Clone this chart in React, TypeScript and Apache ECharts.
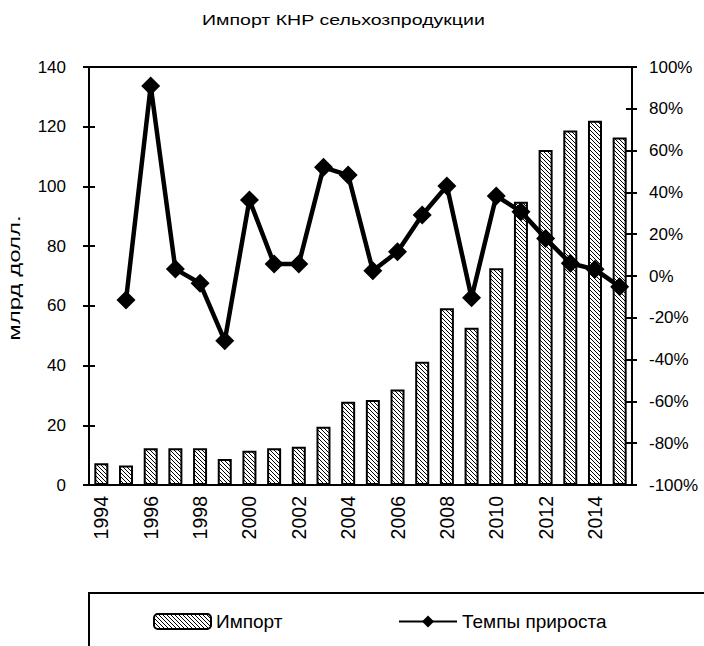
import React, { useEffect, useRef } from "react";
import * as echarts from "echarts";

const years = ["1994","1995","1996","1997","1998","1999","2000","2001","2002","2003","2004","2005","2006","2007","2008","2009","2010","2011","2012","2013","2014","2015"];
const importValues = [7.3, 6.5, 12.3, 12.3, 12.3, 8.7, 11.5, 12.3, 12.8, 19.5, 27.9, 28.5, 32.0, 41.3, 59.2, 52.7, 72.6, 94.9, 112.2, 118.7, 122.0, 116.4];
const growthValues = [null, -11.5, 90.9, 3.3, -3.5, -31, 36.4, 5.7, 5.7, 52, 48.3, 2.5, 11.6, 29.2, 43.1, -10.4, 38.3, 30.8, 18, 6.1, 3.2, -5.1];
const titleText = "Импорт КНР сельхозпродукции";
const yNameText = "млрд долл.";

const FONT = "Liberation Sans, Arial, sans-serif";

function makePattern() {
  const c = document.createElement("canvas");
  c.width = 4;
  c.height = 4;
  const ctx = c.getContext("2d")!;
  ctx.fillStyle = "#fff";
  ctx.fillRect(0, 0, 4, 4);
  ctx.fillStyle = "#000";
  for (let i = 0; i < 4; i++) ctx.fillRect(i, i, 1, 1);
  return c;
}

export default function App() {
  const ref = useRef<HTMLDivElement>(null);
  useEffect(() => {
    const chart = echarts.init(ref.current!, null, { renderer: "svg" });
    const pattern = { image: makePattern(), repeat: "repeat" };
    const tickTxt = { color: "#000", fontFamily: FONT, fontSize: 17 };
    const legTxt = { color: "#000", fontFamily: FONT, fontSize: 19 };
    const axisLine = { show: true, lineStyle: { color: "#000", width: 2 } };
    const tickStyle = { color: "#000", width: 2 };
    chart.setOption({
      animation: false,
      backgroundColor: "#fff",
      grid: { left: 89, right: 72, top: 67, bottom: 161, show: true, borderColor: "#000", borderWidth: 2 },
      legend: [
        {
          data: ["Импорт"],
          left: 153,
          top: 612,
          padding: 0,
          itemWidth: 57,
          itemHeight: 15,
          textStyle: legTxt,
        },
        {
          data: ["Темпы прироста"],
          left: 398,
          top: 612,
          padding: 0,
          itemWidth: 58,
          itemHeight: 15,
          textStyle: legTxt,
        },
      ],
      graphic: [
        {
          type: "rect",
          shape: { x: 89, y: 593, width: 700, height: 100 },
          style: { fill: "none", stroke: "#000", lineWidth: 2 },
          z: -1,
        },
        {
          type: "text",
          x: 202,
          y: 12,
          scaleX: 1.26,
          style: { text: titleText, fill: "#000", font: "15.5px " + FONT, textAlign: "left", textVerticalAlign: "top" },
        },
        {
          type: "text",
          x: 15,
          y: 278,
          rotation: Math.PI / 2,
          scaleX: 1.5,
          style: { text: yNameText, fill: "#000", font: "16px " + FONT, textAlign: "center", textVerticalAlign: "middle" },
        },
      ],
      xAxis: {
        type: "category",
        data: years,
        axisLine: { lineStyle: { color: "#000", width: 2 } },
        axisTick: { interval: 0, length: 7, lineStyle: tickStyle },
        axisLabel: { interval: 1, rotate: 90, margin: 11, ...tickTxt, fontSize: 19.5 },
      },
      yAxis: [
        {
          type: "value",
          min: 0,
          max: 140,
          interval: 20,
          position: "left",
          axisLine,
          axisTick: { show: true, length: 6, lineStyle: tickStyle },
          axisLabel: { margin: 23, ...tickTxt },
          splitLine: { show: false },
        },
        {
          type: "value",
          min: -100,
          max: 100,
          interval: 20,
          position: "right",
          axisLine,
          axisTick: { show: true, length: 5, lineStyle: tickStyle },
          axisLabel: { margin: 17, formatter: "{value}%", ...tickTxt },
          splitLine: { show: false },
        },
        {
          type: "value",
          min: 0,
          max: 140,
          interval: 20,
          position: "left",
          axisLine: { show: false },
          axisTick: { show: true, inside: true, length: 6, lineStyle: tickStyle },
          axisLabel: { show: false },
          splitLine: { show: false },
        },
        {
          type: "value",
          min: -100,
          max: 100,
          interval: 20,
          position: "right",
          axisLine: { show: false },
          axisTick: { show: true, inside: true, length: 6, lineStyle: tickStyle },
          axisLabel: { show: false },
          splitLine: { show: false },
        },
      ],
      series: [
        {
          name: "Импорт",
          type: "bar",
          data: importValues,
          barWidth: 14,
          itemStyle: { color: pattern, borderColor: "#000", borderWidth: 2 },
          z: 2,
        },
        {
          name: "Темпы прироста",
          type: "line",
          yAxisIndex: 1,
          data: growthValues,
          symbol: "diamond",
          symbolSize: 19,
          showSymbol: true,
          showAllSymbol: true,
          color: "#000",
          lineStyle: { color: "#000", width: 4.5 },
          itemStyle: { color: "#000" },
          z: 3,
        },
      ],
    });
    return () => chart.dispose();
  }, []);
  return <div ref={ref} style={{ position: "absolute", left: 0, top: 0, width: 704, height: 646 }} />;
}
